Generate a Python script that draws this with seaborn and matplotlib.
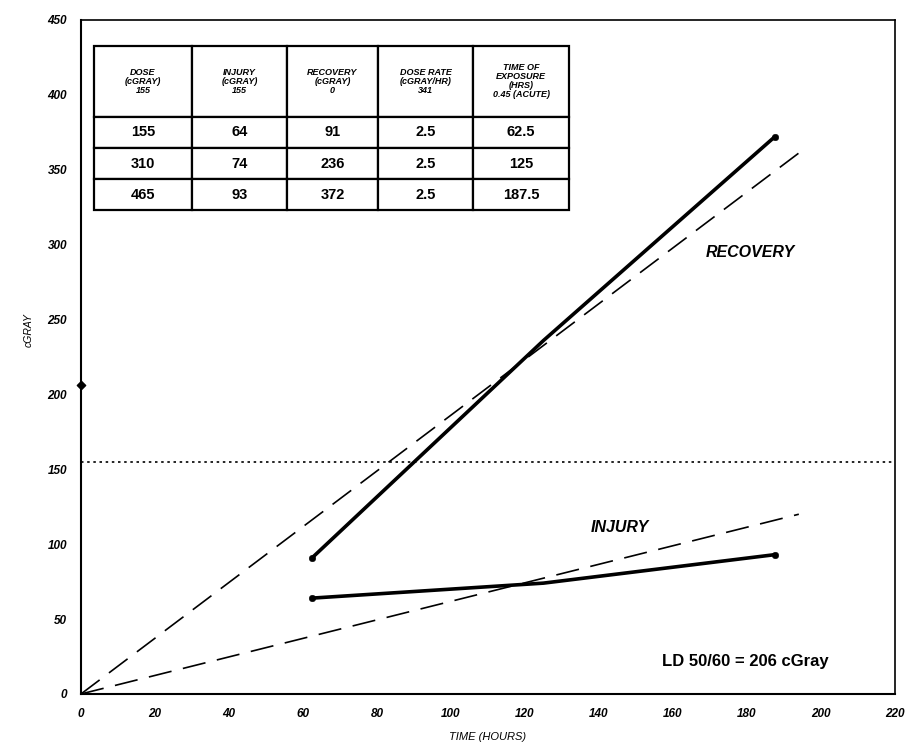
import matplotlib
matplotlib.use("Agg")
import matplotlib.pyplot as plt
import pandas as pd
import seaborn as sns

# Exposure schedule at a constant 2.5 cGray/hr
hours = [62.5, 125, 187.5]
dose = [155, 310, 465]
injury = [64, 74, 93]
recovery = [91, 236, 372]
dose_rate = [2.5, 2.5, 2.5]

# Straight-line trends drawn from the origin
recovery_trend_x = [0, 195]
recovery_trend_y = [0, 363]
injury_trend_x = [0, 194]
injury_trend_y = [0, 120]

acute_dose = 155
ld_50_60 = 206

x_ticks = list(range(0, 221, 20))
y_ticks = list(range(0, 451, 50))

header = [
    "DOSE\n(cGRAY)\n155",
    "INJURY\n(cGRAY)\n155",
    "RECOVERY\n(cGRAY)\n0",
    "DOSE RATE\n(cGRAY/HR)\n341",
    "TIME OF\nEXPOSURE\n(HRS)\n0.45 (ACUTE)",
]

sns.set_theme(style="white")
plt.rcParams["font.family"] = ["Liberation Sans", "DejaVu Sans"]
plt.rcParams.update({
    "text.color": "black",
    "axes.labelcolor": "black",
    "xtick.color": "black",
    "ytick.color": "black",
})

fig = plt.figure(figsize=(9.07, 7.47), dpi=100)
ax = fig.add_axes([0.0893, 0.0710, 0.8975, 0.9023])

# measured injury / recovery curves
measured = pd.DataFrame({
    "hours": hours + hours,
    "cgray": injury + recovery,
    "series": ["INJURY"] * len(hours) + ["RECOVERY"] * len(hours),
})
sns.lineplot(data=measured, x="hours", y="cgray", units="series",
             estimator=None, color="black", lw=2.6, ax=ax, legend=False)
ends = measured[measured["hours"].isin([hours[0], hours[-1]])]
sns.scatterplot(data=ends, x="hours", y="cgray", color="black", s=22,
                edgecolor="black", ax=ax, legend=False, zorder=5)

# dashed trends
trends = pd.DataFrame({
    "hours": recovery_trend_x + injury_trend_x,
    "cgray": recovery_trend_y + injury_trend_y,
    "series": ["RECOVERY", "RECOVERY", "INJURY", "INJURY"],
})
sns.lineplot(data=trends, x="hours", y="cgray", units="series",
             estimator=None, color="black", lw=1.2, linestyle=(0, (14, 7)),
             ax=ax, legend=False)

# acute dose level
ax.axhline(acute_dose, color="black", lw=1.2, ls=(0, (1.5, 2.2)))

# LD 50/60 marker on the dose axis
ax.scatter([0], [ld_50_60], color="black", s=18, marker="D", zorder=6, clip_on=False)

ax.set_xlim(0, 220)
ax.set_ylim(0, 450)
ax.set_xticks(x_ticks)
ax.set_yticks(y_ticks)
ax.set_xticklabels([str(v) for v in x_ticks], fontsize=8.5, fontstyle="italic", fontweight="bold")
ax.set_yticklabels([str(v) for v in y_ticks], fontsize=8.5, fontstyle="italic", fontweight="bold")
ax.tick_params(direction="out", length=4, width=1.2, color="black", pad=6)
for side in ["left", "bottom", "top", "right"]:
    ax.spines[side].set_visible(True)
    ax.spines[side].set_color("black")
    ax.spines[side].set_linewidth(1.5)
ax.spines["top"].set_linewidth(1.2)
ax.spines["right"].set_linewidth(1.2)

ax.set_xlabel("TIME (HOURS)", fontsize=8, fontstyle="italic", labelpad=9)
ax.set_ylabel("cGRAY", fontsize=7.5, fontstyle="italic", labelpad=4)
ax.yaxis.set_label_coords(-0.058, 0.54)

ax.text(180.8, 295, "RECOVERY", fontsize=11.5, fontweight="bold", fontstyle="italic",
        ha="center", va="center")
ax.text(145.7, 111, "INJURY", fontsize=11.5, fontweight="bold", fontstyle="italic",
        ha="center", va="center")
ax.text(179.5, 22, f"LD 50/60 = {ld_50_60} cGray", fontsize=12, fontweight="bold",
        ha="center", va="center")

# data table
rows = [[f"{d}", f"{i}", f"{r}", f"{q:g}", f"{h:g}"]
        for d, i, r, q, h in zip(dose, injury, recovery, dose_rate, hours)]
tbl = ax.table(cellText=[header] + rows, cellLoc="center",
               bbox=[0.016, 0.718, 0.5835, 0.2434])
tbl.auto_set_font_size(False)
col_w = [98, 95, 91, 95, 96]
for (r, c), cell in tbl.get_celld().items():
    cell.set_width(col_w[c])
    cell.set_height(71 if r == 0 else 31)
    cell.set_linewidth(1.6)
    cell.set_edgecolor("black")
    cell.set_facecolor("white")
    txt = cell.get_text()
    txt.set_color("black")
    if r == 0:
        txt.set_fontsize(6.5)
        txt.set_fontweight("bold")
        txt.set_fontstyle("italic")
        txt.set_linespacing(1.0)
    else:
        txt.set_fontsize(10.5)
        txt.set_fontweight("bold")
tbl.set_zorder(10)

fig.savefig("out.png", dpi=100, facecolor="white")
